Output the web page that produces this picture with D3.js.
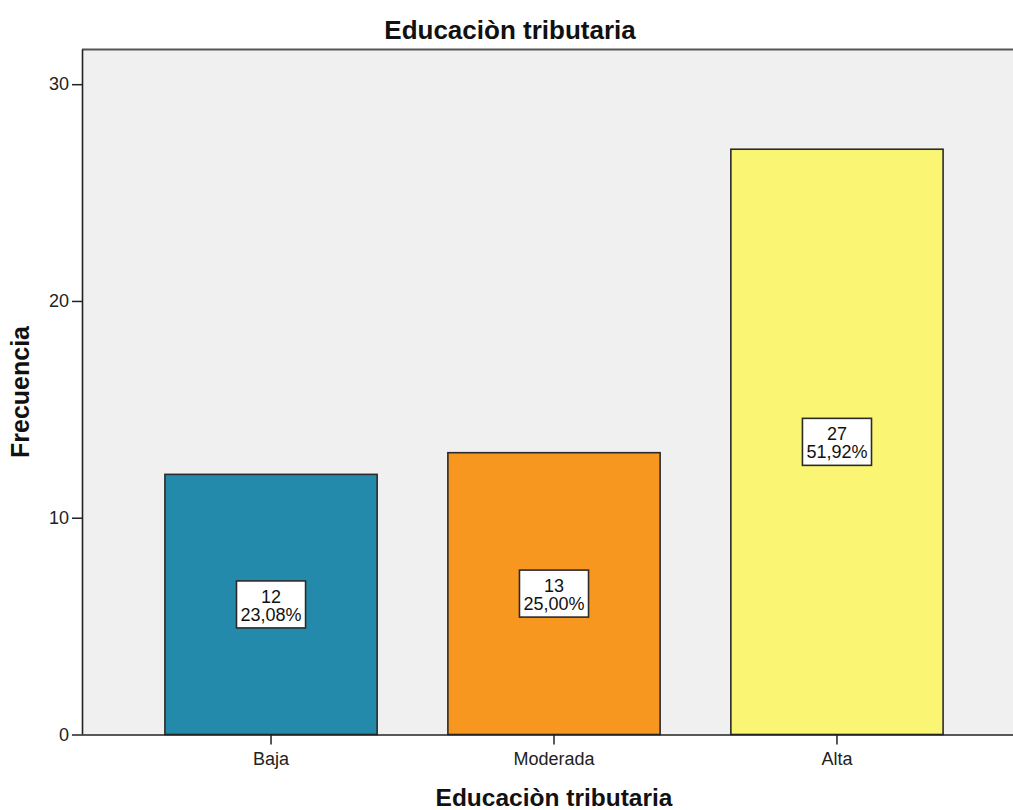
<!DOCTYPE html>
<html>
<head>
<meta charset="utf-8">
<script src="https://cdn.jsdelivr.net/npm/d3@7"></script>
<style>
  html, body { margin: 0; padding: 0; background: #ffffff; }
  svg { display: block; font-family: Arial, "Liberation Sans", sans-serif; }
</style>
</head>
<body>
<svg id="chart" width="1013" height="810"></svg>
<script>
// Frequency table for "Educación tributaria"
const categories = ["Baja", "Moderada", "Alta"];
const counts = [12, 13, 27];
const percents = ["23,08%", "25,00%", "51,92%"];
const barColors = ["#238aab", "#f8971f", "#faf573"];
const yTicks = [0, 10, 20, 30];

const svg = d3.select("#chart");
const plot = { left: 82, top: 49.5, bottom: 734.5, right: 1026 };

const x = d3.scaleBand()
  .domain(categories)
  .range([plot.left, plot.right])
  .paddingInner(0.25)
  .paddingOuter(0.293);

const y = d3.scaleLinear()
  .domain([0, 31.6])
  .range([plot.bottom, plot.top]);

// plot background
svg.append("rect")
  .attr("x", plot.left).attr("y", plot.top)
  .attr("width", plot.right - plot.left).attr("height", plot.bottom - plot.top)
  .attr("fill", "#f0f0f0");

// top frame line
svg.append("line")
  .attr("x1", plot.left).attr("x2", plot.right)
  .attr("y1", plot.top).attr("y2", plot.top)
  .attr("stroke", "#555").attr("stroke-width", 2);

// bars
svg.selectAll("rect.bar")
  .data(categories)
  .join("rect")
  .attr("class", "bar")
  .attr("x", d => x(d))
  .attr("y", (d, i) => y(counts[i]))
  .attr("width", x.bandwidth())
  .attr("height", (d, i) => y(0) - y(counts[i]))
  .attr("fill", (d, i) => barColors[i])
  .attr("stroke", "#2b2b2b")
  .attr("stroke-width", 1.6);

// y axis
const yAxis = svg.append("g")
  .attr("transform", `translate(${plot.left},0)`)
  .call(d3.axisLeft(y).tickValues(yTicks).tickSize(10).tickPadding(3).tickFormat(d3.format("d")));
yAxis.select(".domain").attr("stroke", "#222").attr("stroke-width", 1.6)
  .attr("d", `M0.5,${plot.top}V${plot.bottom}`);
yAxis.selectAll(".tick line").attr("stroke", "#222").attr("stroke-width", 1.5);
yAxis.selectAll(".tick text").attr("font-size", 18).attr("fill", "#222")
  .attr("font-family", "Arial, 'Liberation Sans', sans-serif");

// x axis
const xAxis = svg.append("g")
  .attr("transform", `translate(0,${plot.bottom})`)
  .call(d3.axisBottom(x).tickSize(10).tickPadding(8));
xAxis.select(".domain").attr("stroke", "#222").attr("stroke-width", 1.6)
  .attr("d", `M${plot.left},0.5H${plot.right}`);
xAxis.selectAll(".tick line").attr("stroke", "#222").attr("stroke-width", 1.5);
xAxis.selectAll(".tick text").attr("font-size", 18).attr("fill", "#222")
  .attr("font-family", "Arial, 'Liberation Sans', sans-serif");

// value labels in boxes
const labels = svg.selectAll("g.lbl")
  .data(categories)
  .join("g")
  .attr("class", "lbl")
  .attr("transform", (d, i) => `translate(${x(d) + x.bandwidth() / 2},${(y(counts[i]) + y(0)) / 2})`);

labels.each(function (d, i) {
  const g = d3.select(this);
  const box = g.append("rect");
  const t1 = g.append("text").attr("text-anchor", "middle").attr("y", -1.5)
    .attr("font-size", 18).attr("fill", "#111").text(counts[i]);
  const t2 = g.append("text").attr("text-anchor", "middle").attr("y", 16.5)
    .attr("font-size", 18).attr("fill", "#111").text(percents[i]);
  const w = Math.max(t1.node().getComputedTextLength(), t2.node().getComputedTextLength()) + 8;
  box.attr("x", -w / 2).attr("y", -23.5).attr("width", w).attr("height", 47)
    .attr("fill", "#ffffff").attr("stroke", "#2b2b2b").attr("stroke-width", 1.6);
});

// titles
svg.append("text")
  .attr("x", 510).attr("y", 39)
  .attr("text-anchor", "middle")
  .attr("font-size", 26).attr("font-weight", "bold").attr("fill", "#111")
  .text("Educaciòn tributaria");

svg.append("text")
  .attr("x", (plot.left + plot.right) / 2).attr("y", 806)
  .attr("text-anchor", "middle")
  .attr("font-size", 24.5).attr("font-weight", "bold").attr("fill", "#111")
  .text("Educaciòn tributaria");

svg.append("text")
  .attr("transform", `translate(29,${(plot.top + plot.bottom) / 2}) rotate(-90)`)
  .attr("text-anchor", "middle")
  .attr("font-size", 25).attr("font-weight", "bold").attr("fill", "#111")
  .text("Frecuencia");
</script>
</body>
</html>
